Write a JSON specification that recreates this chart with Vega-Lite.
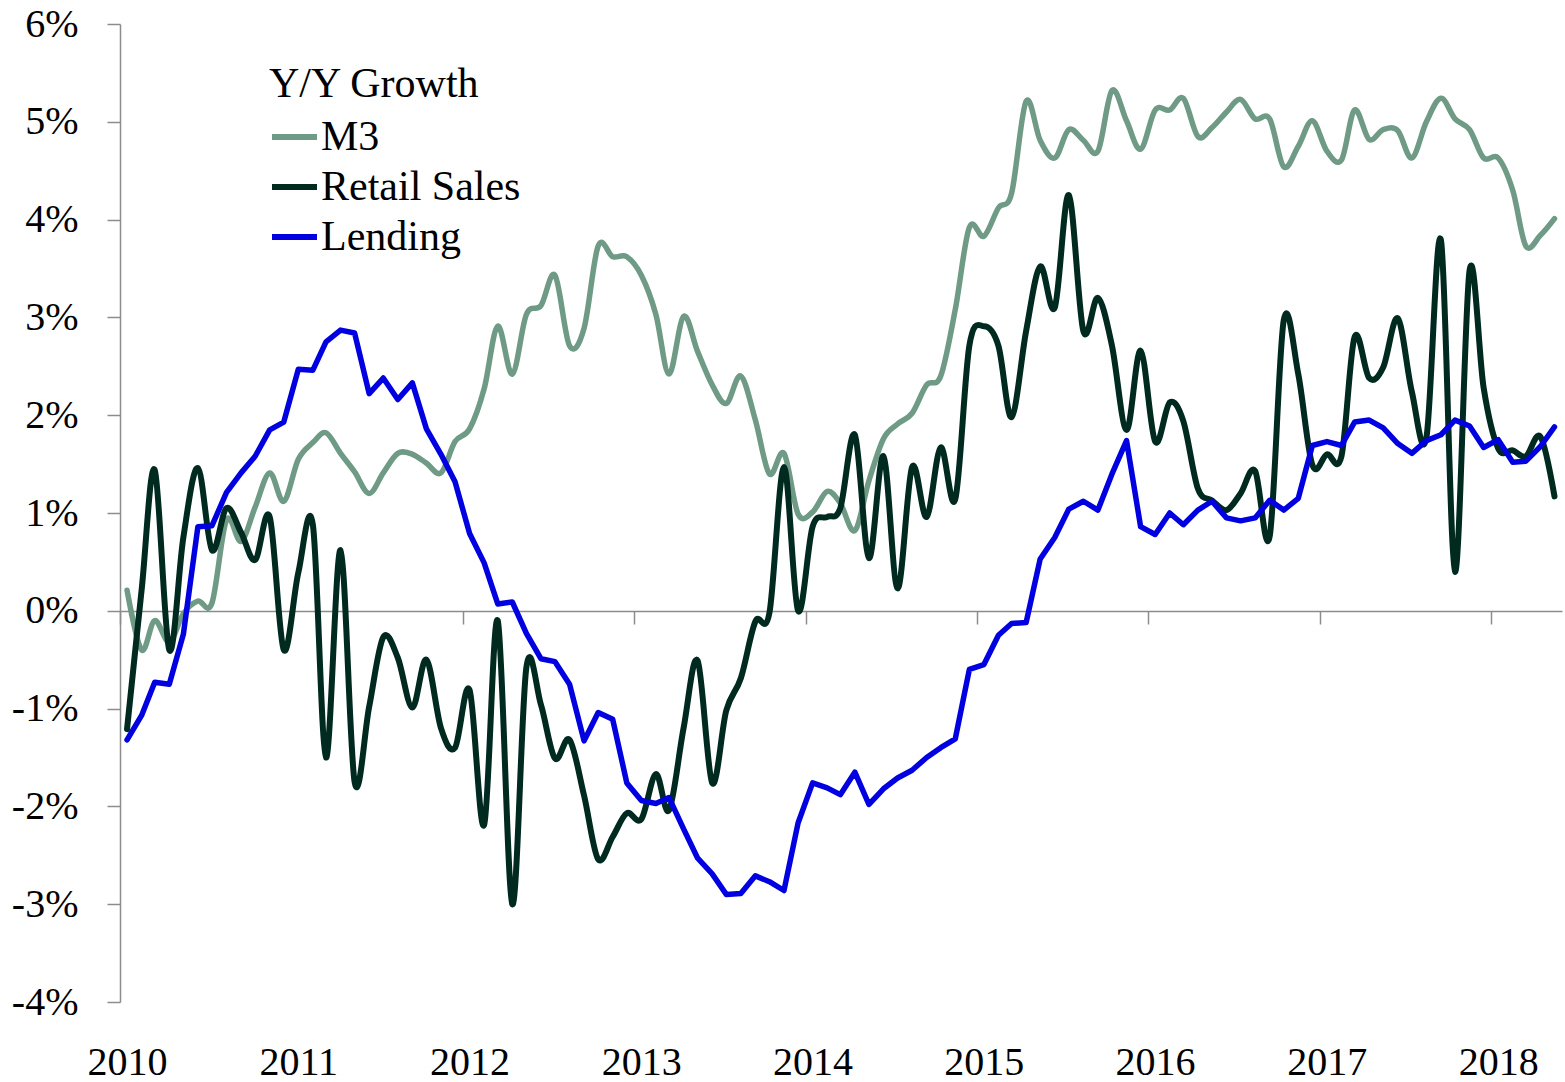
{
"$schema": "https://vega.github.io/schema/vega-lite/v6.json",
"width": 1442, "height": 978,
"autosize": {"type": "none"},
"padding": {"left": 120, "top": 24, "right": 3, "bottom": 80},
"background": "white",
"config": {"view": {"stroke": null}, "font": "Liberation Serif"},
"datasets": {
"rows": [
{"date":"2010-01-16","series":"M3","value":0.21},{"date":"2010-02-16","series":"M3","value":-0.40},{"date":"2010-03-16","series":"M3","value":-0.10},{"date":"2010-04-16","series":"M3","value":-0.32},{"date":"2010-05-16","series":"M3","value":-0.03},{"date":"2010-06-16","series":"M3","value":0.10},{"date":"2010-07-16","series":"M3","value":0.08},{"date":"2010-08-16","series":"M3","value":0.93},{"date":"2010-09-16","series":"M3","value":0.71},{"date":"2010-10-16","series":"M3","value":1.06},{"date":"2010-11-16","series":"M3","value":1.41},{"date":"2010-12-16","series":"M3","value":1.12},
{"date":"2011-01-16","series":"M3","value":1.55},{"date":"2011-02-16","series":"M3","value":1.72},{"date":"2011-03-16","series":"M3","value":1.82},{"date":"2011-04-16","series":"M3","value":1.61},{"date":"2011-05-16","series":"M3","value":1.42},{"date":"2011-06-16","series":"M3","value":1.20},{"date":"2011-07-16","series":"M3","value":1.41},{"date":"2011-08-16","series":"M3","value":1.61},{"date":"2011-09-16","series":"M3","value":1.60},{"date":"2011-10-16","series":"M3","value":1.51},{"date":"2011-11-16","series":"M3","value":1.41},{"date":"2011-12-16","series":"M3","value":1.73},
{"date":"2012-01-16","series":"M3","value":1.86},{"date":"2012-02-16","series":"M3","value":2.27},{"date":"2012-03-16","series":"M3","value":2.91},{"date":"2012-04-16","series":"M3","value":2.42},{"date":"2012-05-16","series":"M3","value":3.03},{"date":"2012-06-16","series":"M3","value":3.12},{"date":"2012-07-16","series":"M3","value":3.43},{"date":"2012-08-16","series":"M3","value":2.71},{"date":"2012-09-16","series":"M3","value":2.89},{"date":"2012-10-16","series":"M3","value":3.73},{"date":"2012-11-16","series":"M3","value":3.62},{"date":"2012-12-16","series":"M3","value":3.62},
{"date":"2013-01-16","series":"M3","value":3.43},{"date":"2013-02-16","series":"M3","value":3.03},{"date":"2013-03-16","series":"M3","value":2.42},{"date":"2013-04-16","series":"M3","value":3.01},{"date":"2013-05-16","series":"M3","value":2.65},{"date":"2013-06-16","series":"M3","value":2.31},{"date":"2013-07-16","series":"M3","value":2.12},{"date":"2013-08-16","series":"M3","value":2.40},{"date":"2013-09-16","series":"M3","value":1.95},{"date":"2013-10-16","series":"M3","value":1.40},{"date":"2013-11-16","series":"M3","value":1.61},{"date":"2013-12-16","series":"M3","value":0.99},
{"date":"2014-01-16","series":"M3","value":1.01},{"date":"2014-02-16","series":"M3","value":1.22},{"date":"2014-03-16","series":"M3","value":1.10},{"date":"2014-04-16","series":"M3","value":0.82},{"date":"2014-05-16","series":"M3","value":1.33},{"date":"2014-06-16","series":"M3","value":1.76},{"date":"2014-07-16","series":"M3","value":1.91},{"date":"2014-08-16","series":"M3","value":2.02},{"date":"2014-09-16","series":"M3","value":2.31},{"date":"2014-10-16","series":"M3","value":2.40},{"date":"2014-11-16","series":"M3","value":3.08},{"date":"2014-12-16","series":"M3","value":3.92},
{"date":"2015-01-16","series":"M3","value":3.83},{"date":"2015-02-16","series":"M3","value":4.12},{"date":"2015-03-16","series":"M3","value":4.27},{"date":"2015-04-16","series":"M3","value":5.21},{"date":"2015-05-16","series":"M3","value":4.81},{"date":"2015-06-16","series":"M3","value":4.63},{"date":"2015-07-16","series":"M3","value":4.92},{"date":"2015-08-16","series":"M3","value":4.81},{"date":"2015-09-16","series":"M3","value":4.70},{"date":"2015-10-16","series":"M3","value":5.32},{"date":"2015-11-16","series":"M3","value":5.01},{"date":"2015-12-16","series":"M3","value":4.72},
{"date":"2016-01-16","series":"M3","value":5.12},{"date":"2016-02-16","series":"M3","value":5.12},{"date":"2016-03-16","series":"M3","value":5.24},{"date":"2016-04-16","series":"M3","value":4.85},{"date":"2016-05-16","series":"M3","value":4.94},{"date":"2016-06-16","series":"M3","value":5.10},{"date":"2016-07-16","series":"M3","value":5.23},{"date":"2016-08-16","series":"M3","value":5.03},{"date":"2016-09-16","series":"M3","value":5.03},{"date":"2016-10-16","series":"M3","value":4.54},{"date":"2016-11-16","series":"M3","value":4.75},{"date":"2016-12-16","series":"M3","value":5.01},
{"date":"2017-01-16","series":"M3","value":4.70},{"date":"2017-02-16","series":"M3","value":4.61},{"date":"2017-03-16","series":"M3","value":5.12},{"date":"2017-04-16","series":"M3","value":4.82},{"date":"2017-05-16","series":"M3","value":4.92},{"date":"2017-06-16","series":"M3","value":4.91},{"date":"2017-07-16","series":"M3","value":4.63},{"date":"2017-08-16","series":"M3","value":5.00},{"date":"2017-09-16","series":"M3","value":5.24},{"date":"2017-10-16","series":"M3","value":5.03},{"date":"2017-11-16","series":"M3","value":4.92},{"date":"2017-12-16","series":"M3","value":4.63},
{"date":"2018-01-16","series":"M3","value":4.63},{"date":"2018-02-16","series":"M3","value":4.30},{"date":"2018-03-16","series":"M3","value":3.73},{"date":"2018-04-16","series":"M3","value":3.84},{"date":"2018-05-16","series":"M3","value":4.01},

{"date":"2010-01-16","series":"Retail Sales","value":-1.21},{"date":"2010-02-16","series":"Retail Sales","value":0.21},{"date":"2010-03-16","series":"Retail Sales","value":1.44},{"date":"2010-04-16","series":"Retail Sales","value":-0.40},{"date":"2010-05-16","series":"Retail Sales","value":0.75},{"date":"2010-06-16","series":"Retail Sales","value":1.46},{"date":"2010-07-16","series":"Retail Sales","value":0.62},{"date":"2010-08-16","series":"Retail Sales","value":1.05},{"date":"2010-09-16","series":"Retail Sales","value":0.80},{"date":"2010-10-16","series":"Retail Sales","value":0.52},{"date":"2010-11-16","series":"Retail Sales","value":0.96},{"date":"2010-12-16","series":"Retail Sales","value":-0.40},
{"date":"2011-01-16","series":"Retail Sales","value":0.39},{"date":"2011-02-16","series":"Retail Sales","value":0.88},{"date":"2011-03-16","series":"Retail Sales","value":-1.50},{"date":"2011-04-16","series":"Retail Sales","value":0.62},{"date":"2011-05-16","series":"Retail Sales","value":-1.75},{"date":"2011-06-16","series":"Retail Sales","value":-0.98},{"date":"2011-07-16","series":"Retail Sales","value":-0.27},{"date":"2011-08-16","series":"Retail Sales","value":-0.48},{"date":"2011-09-16","series":"Retail Sales","value":-0.99},{"date":"2011-10-16","series":"Retail Sales","value":-0.50},{"date":"2011-11-16","series":"Retail Sales","value":-1.20},{"date":"2011-12-16","series":"Retail Sales","value":-1.40},
{"date":"2012-01-16","series":"Retail Sales","value":-0.81},{"date":"2012-02-16","series":"Retail Sales","value":-2.19},{"date":"2012-03-16","series":"Retail Sales","value":-0.10},{"date":"2012-04-16","series":"Retail Sales","value":-3.00},{"date":"2012-05-16","series":"Retail Sales","value":-0.58},{"date":"2012-06-16","series":"Retail Sales","value":-0.96},{"date":"2012-07-16","series":"Retail Sales","value":-1.51},{"date":"2012-08-16","series":"Retail Sales","value":-1.32},{"date":"2012-09-16","series":"Retail Sales","value":-1.89},{"date":"2012-10-16","series":"Retail Sales","value":-2.54},{"date":"2012-11-16","series":"Retail Sales","value":-2.31},{"date":"2012-12-16","series":"Retail Sales","value":-2.07},
{"date":"2013-01-16","series":"Retail Sales","value":-2.13},{"date":"2013-02-16","series":"Retail Sales","value":-1.67},{"date":"2013-03-16","series":"Retail Sales","value":-2.04},{"date":"2013-04-16","series":"Retail Sales","value":-1.20},{"date":"2013-05-16","series":"Retail Sales","value":-0.51},{"date":"2013-06-16","series":"Retail Sales","value":-1.76},{"date":"2013-07-16","series":"Retail Sales","value":-1.02},{"date":"2013-08-16","series":"Retail Sales","value":-0.69},{"date":"2013-09-16","series":"Retail Sales","value":-0.11},{"date":"2013-10-16","series":"Retail Sales","value":-0.02},{"date":"2013-11-16","series":"Retail Sales","value":1.47},{"date":"2013-12-16","series":"Retail Sales","value":0.00},
{"date":"2014-01-16","series":"Retail Sales","value":0.86},{"date":"2014-02-16","series":"Retail Sales","value":0.96},{"date":"2014-03-16","series":"Retail Sales","value":1.05},{"date":"2014-04-16","series":"Retail Sales","value":1.80},{"date":"2014-05-16","series":"Retail Sales","value":0.54},{"date":"2014-06-16","series":"Retail Sales","value":1.58},{"date":"2014-07-16","series":"Retail Sales","value":0.23},{"date":"2014-08-16","series":"Retail Sales","value":1.47},{"date":"2014-09-16","series":"Retail Sales","value":0.96},{"date":"2014-10-16","series":"Retail Sales","value":1.67},{"date":"2014-11-16","series":"Retail Sales","value":1.14},{"date":"2014-12-16","series":"Retail Sales","value":2.71},
{"date":"2015-01-16","series":"Retail Sales","value":2.91},{"date":"2015-02-16","series":"Retail Sales","value":2.71},{"date":"2015-03-16","series":"Retail Sales","value":1.98},{"date":"2015-04-16","series":"Retail Sales","value":2.86},{"date":"2015-05-16","series":"Retail Sales","value":3.52},{"date":"2015-06-16","series":"Retail Sales","value":3.10},{"date":"2015-07-16","series":"Retail Sales","value":4.25},{"date":"2015-08-16","series":"Retail Sales","value":2.86},{"date":"2015-09-16","series":"Retail Sales","value":3.20},{"date":"2015-10-16","series":"Retail Sales","value":2.71},{"date":"2015-11-16","series":"Retail Sales","value":1.85},{"date":"2015-12-16","series":"Retail Sales","value":2.66},
{"date":"2016-01-16","series":"Retail Sales","value":1.73},{"date":"2016-02-16","series":"Retail Sales","value":2.13},{"date":"2016-03-16","series":"Retail Sales","value":1.94},{"date":"2016-04-16","series":"Retail Sales","value":1.25},{"date":"2016-05-16","series":"Retail Sales","value":1.13},{"date":"2016-06-16","series":"Retail Sales","value":1.03},{"date":"2016-07-16","series":"Retail Sales","value":1.20},{"date":"2016-08-16","series":"Retail Sales","value":1.43},{"date":"2016-09-16","series":"Retail Sales","value":0.76},{"date":"2016-10-16","series":"Retail Sales","value":2.97},{"date":"2016-11-16","series":"Retail Sales","value":2.42},{"date":"2016-12-16","series":"Retail Sales","value":1.49},
{"date":"2017-01-16","series":"Retail Sales","value":1.60},{"date":"2017-02-16","series":"Retail Sales","value":1.58},{"date":"2017-03-16","series":"Retail Sales","value":2.80},{"date":"2017-04-16","series":"Retail Sales","value":2.38},{"date":"2017-05-16","series":"Retail Sales","value":2.49},{"date":"2017-06-16","series":"Retail Sales","value":2.99},{"date":"2017-07-16","series":"Retail Sales","value":2.24},{"date":"2017-08-16","series":"Retail Sales","value":1.77},{"date":"2017-09-16","series":"Retail Sales","value":3.79},{"date":"2017-10-16","series":"Retail Sales","value":0.40},{"date":"2017-11-16","series":"Retail Sales","value":3.48},{"date":"2017-12-16","series":"Retail Sales","value":2.28},
{"date":"2018-01-16","series":"Retail Sales","value":1.66},{"date":"2018-02-16","series":"Retail Sales","value":1.64},{"date":"2018-03-16","series":"Retail Sales","value":1.58},{"date":"2018-04-16","series":"Retail Sales","value":1.78},{"date":"2018-05-16","series":"Retail Sales","value":1.17},

{"date":"2010-01-16","series":"Lending","value":-1.32},{"date":"2010-02-16","series":"Lending","value":-1.07},{"date":"2010-03-16","series":"Lending","value":-0.73},{"date":"2010-04-16","series":"Lending","value":-0.75},{"date":"2010-05-16","series":"Lending","value":-0.24},{"date":"2010-06-16","series":"Lending","value":0.86},{"date":"2010-07-16","series":"Lending","value":0.87},{"date":"2010-08-16","series":"Lending","value":1.21},{"date":"2010-09-16","series":"Lending","value":1.41},{"date":"2010-10-16","series":"Lending","value":1.58},{"date":"2010-11-16","series":"Lending","value":1.85},{"date":"2010-12-16","series":"Lending","value":1.93},
{"date":"2011-01-16","series":"Lending","value":2.47},{"date":"2011-02-16","series":"Lending","value":2.46},{"date":"2011-03-16","series":"Lending","value":2.75},{"date":"2011-04-16","series":"Lending","value":2.87},{"date":"2011-05-16","series":"Lending","value":2.84},{"date":"2011-06-16","series":"Lending","value":2.22},{"date":"2011-07-16","series":"Lending","value":2.38},{"date":"2011-08-16","series":"Lending","value":2.16},{"date":"2011-09-16","series":"Lending","value":2.33},{"date":"2011-10-16","series":"Lending","value":1.86},{"date":"2011-11-16","series":"Lending","value":1.60},{"date":"2011-12-16","series":"Lending","value":1.32},
{"date":"2012-01-16","series":"Lending","value":0.79},{"date":"2012-02-16","series":"Lending","value":0.49},{"date":"2012-03-16","series":"Lending","value":0.07},{"date":"2012-04-16","series":"Lending","value":0.09},{"date":"2012-05-16","series":"Lending","value":-0.23},{"date":"2012-06-16","series":"Lending","value":-0.49},{"date":"2012-07-16","series":"Lending","value":-0.52},{"date":"2012-08-16","series":"Lending","value":-0.75},{"date":"2012-09-16","series":"Lending","value":-1.33},{"date":"2012-10-16","series":"Lending","value":-1.04},{"date":"2012-11-16","series":"Lending","value":-1.11},{"date":"2012-12-16","series":"Lending","value":-1.76},
{"date":"2013-01-16","series":"Lending","value":-1.94},{"date":"2013-02-16","series":"Lending","value":-1.97},{"date":"2013-03-16","series":"Lending","value":-1.91},{"date":"2013-04-16","series":"Lending","value":-2.23},{"date":"2013-05-16","series":"Lending","value":-2.53},{"date":"2013-06-16","series":"Lending","value":-2.69},{"date":"2013-07-16","series":"Lending","value":-2.90},{"date":"2013-08-16","series":"Lending","value":-2.89},{"date":"2013-09-16","series":"Lending","value":-2.71},{"date":"2013-10-16","series":"Lending","value":-2.77},{"date":"2013-11-16","series":"Lending","value":-2.86},{"date":"2013-12-16","series":"Lending","value":-2.17},
{"date":"2014-01-16","series":"Lending","value":-1.76},{"date":"2014-02-16","series":"Lending","value":-1.81},{"date":"2014-03-16","series":"Lending","value":-1.88},{"date":"2014-04-16","series":"Lending","value":-1.65},{"date":"2014-05-16","series":"Lending","value":-1.98},{"date":"2014-06-16","series":"Lending","value":-1.82},{"date":"2014-07-16","series":"Lending","value":-1.71},{"date":"2014-08-16","series":"Lending","value":-1.63},{"date":"2014-09-16","series":"Lending","value":-1.50},{"date":"2014-10-16","series":"Lending","value":-1.40},{"date":"2014-11-16","series":"Lending","value":-1.31},{"date":"2014-12-16","series":"Lending","value":-0.60},
{"date":"2015-01-16","series":"Lending","value":-0.55},{"date":"2015-02-16","series":"Lending","value":-0.25},{"date":"2015-03-16","series":"Lending","value":-0.13},{"date":"2015-04-16","series":"Lending","value":-0.12},{"date":"2015-05-16","series":"Lending","value":0.53},{"date":"2015-06-16","series":"Lending","value":0.75},{"date":"2015-07-16","series":"Lending","value":1.04},{"date":"2015-08-16","series":"Lending","value":1.12},{"date":"2015-09-16","series":"Lending","value":1.03},{"date":"2015-10-16","series":"Lending","value":1.40},{"date":"2015-11-16","series":"Lending","value":1.74},{"date":"2015-12-16","series":"Lending","value":0.86},
{"date":"2016-01-16","series":"Lending","value":0.78},{"date":"2016-02-16","series":"Lending","value":1.00},{"date":"2016-03-16","series":"Lending","value":0.88},{"date":"2016-04-16","series":"Lending","value":1.03},{"date":"2016-05-16","series":"Lending","value":1.12},{"date":"2016-06-16","series":"Lending","value":0.95},{"date":"2016-07-16","series":"Lending","value":0.92},{"date":"2016-08-16","series":"Lending","value":0.95},{"date":"2016-09-16","series":"Lending","value":1.13},{"date":"2016-10-16","series":"Lending","value":1.03},{"date":"2016-11-16","series":"Lending","value":1.15},{"date":"2016-12-16","series":"Lending","value":1.69},
{"date":"2017-01-16","series":"Lending","value":1.73},{"date":"2017-02-16","series":"Lending","value":1.69},{"date":"2017-03-16","series":"Lending","value":1.93},{"date":"2017-04-16","series":"Lending","value":1.95},{"date":"2017-05-16","series":"Lending","value":1.87},{"date":"2017-06-16","series":"Lending","value":1.71},{"date":"2017-07-16","series":"Lending","value":1.61},{"date":"2017-08-16","series":"Lending","value":1.74},{"date":"2017-09-16","series":"Lending","value":1.80},{"date":"2017-10-16","series":"Lending","value":1.95},{"date":"2017-11-16","series":"Lending","value":1.89},{"date":"2017-12-16","series":"Lending","value":1.67},
{"date":"2018-01-16","series":"Lending","value":1.75},{"date":"2018-02-16","series":"Lending","value":1.52},{"date":"2018-03-16","series":"Lending","value":1.53},{"date":"2018-04-16","series":"Lending","value":1.68},{"date":"2018-05-16","series":"Lending","value":1.88}
]
},
"data": {"name": "rows"},
"encoding": {
  "x": {"field": "date", "type": "temporal",
    "scale": {"type": "utc", "domain": [{"year": 2010, "month": 1, "date": 1, "utc": true}, {"year": 2018, "month": 6, "date": 1, "utc": true}]},
    "axis": {"title": null, "grid": false,
      "values": [{"year": 2010, "month": 1, "date": 1, "utc": true}, {"year": 2011, "month": 1, "date": 1, "utc": true}, {"year": 2012, "month": 1, "date": 1, "utc": true}, {"year": 2013, "month": 1, "date": 1, "utc": true}, {"year": 2014, "month": 1, "date": 1, "utc": true}, {"year": 2015, "month": 1, "date": 1, "utc": true}, {"year": 2016, "month": 1, "date": 1, "utc": true}, {"year": 2017, "month": 1, "date": 1, "utc": true}, {"year": 2018, "month": 1, "date": 1, "utc": true}],
      "format": "%Y", "formatType": "utc",
      "offset": -391, "tickSize": 13, "labelPadding": 418, "labelOffset": 7,
      "domainColor": "#8c8c8c", "tickColor": "#8c8c8c", "domainWidth": 1.5, "tickWidth": 1.5,
      "labelFont": "Liberation Serif", "labelFontSize": 40, "labelColor": "#000000",
      "labelFlush": false, "labelOverlap": false, "labelBound": false}},
  "y": {"field": "value", "type": "quantitative",
    "scale": {"domain": [-4, 6], "nice": false, "zero": false},
    "axis": {"title": null, "grid": false, "values": [-4, -3, -2, -1, 0, 1, 2, 3, 4, 5, 6],
      "labelExpr": "datum.value + '%'", "tickSize": 13, "labelPadding": 29,
      "domainColor": "#8c8c8c", "tickColor": "#8c8c8c", "domainWidth": 1.5, "tickWidth": 1.5,
      "labelFont": "Liberation Serif", "labelFontSize": 40, "labelColor": "#000000",
      "labelFlush": false, "labelOverlap": false, "labelBaseline": "middle"}},
  "color": {"field": "series", "type": "nominal",
    "scale": {"domain": ["M3", "Retail Sales", "Lending"], "range": ["#6f9a85", "#002a1f", "#0000e0"]},
    "legend": {"orient": "none", "legendX": 149, "legendY": 39.5, "title": "Y/Y Growth",
      "titleFont": "Liberation Serif", "titleFontSize": 42, "titleFontWeight": "normal", "titleColor": "#000000", "titlePadding": 6, "titleLimit": 600,
      "labelFont": "Liberation Serif", "labelFontSize": 42, "labelColor": "#000000", "labelLimit": 600, "labelOffset": 1,
      "symbolType": "stroke", "symbolSize": 2025, "symbolStrokeWidth": 6, "rowPadding": 3, "padding": 0}}
},
"layer": [
  {"transform": [{"filter": "datum.series === 'M3'"}],
   "mark": {"type": "line", "interpolate": "cardinal", "strokeWidth": 5.5, "strokeCap": "round", "strokeJoin": "round"}},
  {"transform": [{"filter": "datum.series === 'Retail Sales'"}],
   "mark": {"type": "line", "interpolate": "cardinal", "strokeWidth": 6, "strokeCap": "round", "strokeJoin": "round"}},
  {"transform": [{"filter": "datum.series === 'Lending'"}],
   "mark": {"type": "line", "interpolate": "linear", "strokeWidth": 5.5, "strokeCap": "round", "strokeJoin": "round"}}
]
}
